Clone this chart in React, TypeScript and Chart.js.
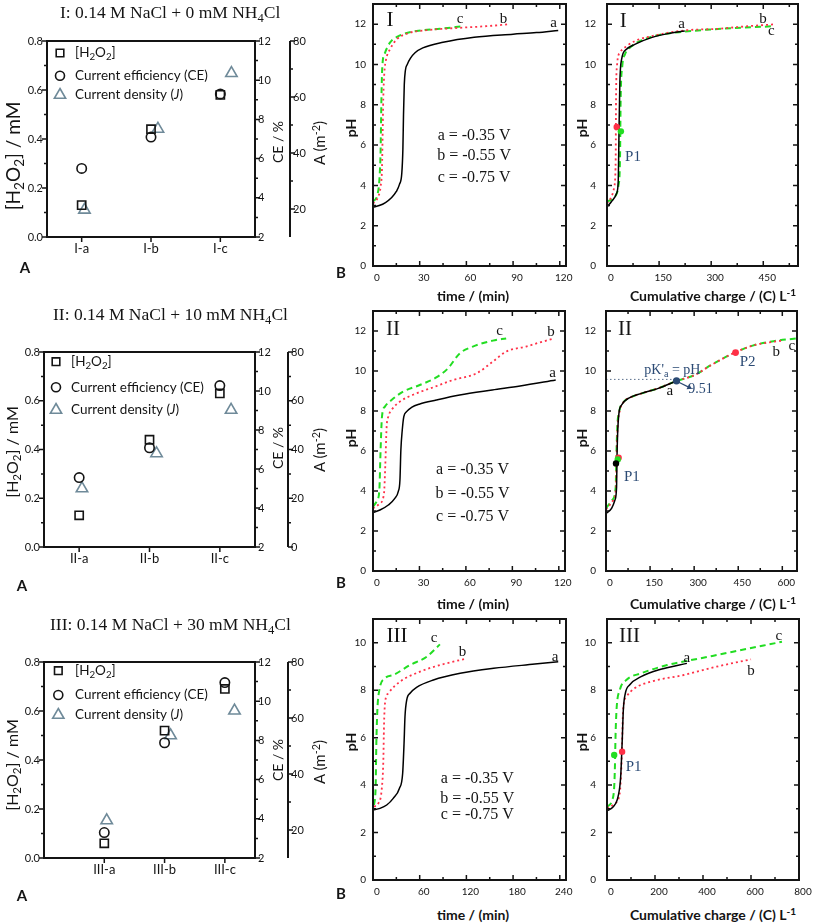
import React, { useEffect, useRef } from 'react';
import { Chart, registerables } from 'chart.js';

Chart.register(...registerables);

type P = [number, number];

// ---------------- Column A data ----------------
const catsI = ['I-a', 'I-b', 'I-c'];
const h2o2I = [0.13, 0.44, 0.58];
const ceI = [5.5, 7.1, 9.3];
const currI = [19.7, 48.6, 68.5];

const catsII = ['II-a', 'II-b', 'II-c'];
const h2o2II = [0.13, 0.44, 0.63];
const ceII = [5.56, 7.09, 10.28];
const currII = [24.0, 38.4, 56.2];

const catsIII = ['III-a', 'III-b', 'III-c'];
const h2o2III = [0.06, 0.52, 0.69];
const ceIII = [3.3, 7.88, 10.95];
const currIII = [23.4, 53.75, 62.6];

// ---------------- tick values ----------------
const h2o2Ticks = [0, 0.2, 0.4, 0.6, 0.8];
const h2o2Minor = [0.1, 0.3, 0.5, 0.7];
const ceTicks = [2, 4, 6, 8, 10, 12];
const ceMinor = [3, 5, 7, 9, 11];
const currTicksI = [20, 40, 60, 80];
const currMinorI = [30, 50, 70];
const currTicksII = [0, 20, 40, 60, 80];
const currMinorII = [10, 30, 50, 70];
const pHTicks13 = [0, 2, 4, 6, 8, 10, 12];
const pHMinor13 = [1, 3, 5, 7, 9, 11];
const pHTicks11 = [0, 2, 4, 6, 8, 10];
const pHMinor11 = [1, 3, 5, 7, 9];
const timeTicks120 = [0, 30, 60, 90, 120];
const timeMinor120 = [15, 45, 75, 105];
const timeTicks240 = [0, 60, 120, 180, 240];
const timeMinor240 = [30, 90, 150, 210];
const chargeTicksI = [0, 150, 300, 450];
const chargeMinorI = [75, 225, 375, 525];
const chargeTicksII = [0, 150, 300, 450, 600];
const chargeMinorII = [75, 225, 375, 525];
const chargeTicksIII = [0, 200, 400, 600, 800];
const chargeMinorIII = [100, 300, 500, 700];

// ---------------- Column B/C curves: [x, pH] ----------------
const timeIa: P[] = [[0, 2.92], [4, 3.0], [8, 3.15], [12, 3.4], [15, 3.7], [17, 4.05], [18.5, 4.6], [19.2, 5.8], [19.6, 7.5], [20.1, 9.0], [20.8, 9.7], [22, 10.0], [24, 10.3], [27, 10.58], [32, 10.82], [45, 11.1], [65, 11.35], [90, 11.5], [105, 11.58], [119, 11.69]];
const timeIb: P[] = [[0, 3.1], [3.4, 3.45], [4.9, 3.95], [5.8, 4.9], [6.2, 6.6], [6.6, 8.3], [7.3, 9.6], [8.4, 10.25], [10.9, 10.75], [15.2, 11.24], [21.7, 11.53], [34.5, 11.7], [56, 11.82], [73, 11.9], [87, 11.99]];
const timeIc: P[] = [[0, 3.2], [2.8, 3.53], [4.1, 4.28], [4.9, 5.77], [5.4, 8.26], [6.0, 9.92], [7.7, 10.58], [10.9, 11.08], [17.4, 11.44], [28, 11.66], [43, 11.77], [58, 11.9]];

const chargeIa: P[] = [[0, 2.92], [13, 3.2], [28, 3.62], [32.5, 4.28], [34.5, 6.6], [37, 9.1], [42, 10.25], [56, 10.75], [80, 11.0], [128, 11.33], [176, 11.53], [224, 11.66]];
const chargeIb: P[] = [[0, 3.1], [13, 3.45], [21, 3.95], [25, 5.27], [26, 8.26], [28.7, 9.92], [37, 10.58], [56, 10.9], [80, 11.16], [138, 11.44], [224, 11.69], [320, 11.77], [406, 11.9], [483, 11.99]];
const chargeIc: P[] = [[0, 3.2], [23, 3.45], [32.6, 3.95], [37.4, 5.27], [39.3, 8.26], [44, 9.92], [51.7, 10.5], [71, 10.9], [100, 11.2], [157, 11.49], [224, 11.63], [300, 11.74], [387, 11.82], [483, 11.9]];
const p1RedI: P = [28, 6.9];
const p1GreenI: P = [40, 6.68];

const timeIIa: P[] = [[0, 2.93], [4.5, 3.05], [9.9, 3.3], [14.1, 3.63], [16.3, 3.97], [17.4, 4.55], [18, 6.05], [18.9, 7.05], [19.9, 7.72], [21.7, 7.97], [24.9, 8.18], [30.2, 8.35], [40.9, 8.55], [56, 8.8], [77, 9.05], [95, 9.25], [118, 9.55]];
const timeIIb: P[] = [[0, 3.13], [4.5, 3.38], [7.1, 3.88], [7.9, 5.2], [8.8, 7.2], [9.9, 7.72], [12, 8.05], [17.4, 8.47], [28, 8.88], [38.8, 9.18], [51.7, 9.55], [66.7, 9.88], [77.4, 10.47], [86, 10.97], [98.8, 11.22], [107.4, 11.42], [117, 11.63]];
const timeIIc: P[] = [[0, 3.22], [2.8, 3.55], [4.1, 4.05], [4.9, 6.05], [5.8, 7.72], [7.7, 8.22], [12, 8.55], [19.5, 8.97], [30.2, 9.3], [40.9, 9.68], [48.4, 10.13], [56, 10.88], [64.5, 11.22], [77.4, 11.52], [86, 11.63]];

const chargeIIa: P[] = [[0, 2.88], [19, 3.13], [30.5, 3.55], [36, 4.2], [37.3, 5.55], [39.6, 6.88], [44, 7.88], [53, 8.3], [76, 8.63], [121, 8.88], [178, 9.13], [240, 9.5]];
const chargeIIb: P[] = [[0, 3.08], [25, 3.55], [34, 4.2], [36, 5.72], [39.6, 7.2], [47.5, 8.05], [60, 8.45], [90, 8.72], [130, 8.92], [180, 9.15], [240, 9.5], [302, 9.8], [358, 10.3], [438, 10.92], [506, 11.3], [574, 11.47], [600, 11.52]];
const chargeIIc: P[] = [[0, 3.13], [21.5, 3.55], [33, 4.2], [35, 5.55], [38.5, 7.2], [46, 8.05], [60, 8.45], [90, 8.72], [130, 8.92], [180, 9.15], [240, 9.5], [302, 9.8], [358, 10.3], [438, 10.92], [506, 11.3], [574, 11.5], [648, 11.63]];
const pkLineII: P[] = [[0, 9.58], [240, 9.58]];
const pkArrowII: P[] = [[246, 9.45], [283, 9.18]];
const pkPointII: P = [240, 9.51];
const p1BlackII: P = [34, 5.38];
const p1GreenII: P = [40, 5.58];
const p1RedII: P = [43, 5.66];
const p2RedII: P = [441, 10.92];

const timeIIIa: P[] = [[0, 2.95], [9, 3.02], [17.6, 3.16], [26, 3.44], [33.9, 3.86], [38.1, 4.49], [39.9, 5.76], [41.1, 6.88], [43.3, 7.58], [47.6, 7.87], [56, 8.12], [77.6, 8.43], [112, 8.71], [155, 8.92], [208, 9.1], [238, 9.2]];
const timeIIIb: P[] = [[1.3, 3.09], [6.9, 3.23], [11.1, 3.79], [13.3, 5.06], [14.1, 6.46], [15.4, 7.44], [19.7, 7.87], [34.7, 8.36], [60.4, 8.78], [86, 9.06], [117, 9.31]];
const timeIIIc: P[] = [[1.3, 3.16], [3.4, 3.93], [4.3, 5.76], [5.6, 7.16], [8.1, 8.0], [15.4, 8.5], [26, 8.64], [47.6, 9.06], [69, 9.41], [86, 9.93]];

const chargeIIIa: P[] = [[0, 2.92], [26, 3.09], [46, 3.51], [57, 4.35], [63, 5.76], [68, 7.16], [76.5, 7.87], [94, 8.22], [142, 8.57], [224, 8.88], [333, 9.13]];
const chargeIIIb: P[] = [[0, 3.02], [33, 3.23], [53, 3.65], [60, 4.78], [63, 5.76], [67, 7.16], [80.6, 7.72], [115, 8.08], [183, 8.36], [320, 8.64], [456, 8.99], [600, 9.3]];
const chargeIIIc: P[] = [[0, 3.09], [22, 3.37], [30, 3.93], [33, 4.78], [35.5, 6.04], [39.6, 7.16], [53, 8.0], [80.6, 8.43], [142, 8.71], [251, 9.06], [388, 9.34], [525, 9.62], [729, 10.04]];
const p1GreenIII: P = [30, 5.27];
const p1RedIII: P = [63, 5.41];

// ---------------- styles ----------------
const SERIF = '"Liberation Serif", "Times New Roman", serif';
const SANS = 'Lato, "Open Sans", sans-serif';
const BLUE = '#2b4a74';
const RED = '#ff3047';
const GREEN = '#22dd22';
const GRAY = '#6f8a99';
const INK = '#141414';

type Seg = { t: string; sub?: boolean; sup?: boolean; it?: boolean };
type Note = { x: number; y: number; text: string | Seg[]; size: number; sans?: boolean; color?: string; align?: 'left' | 'center' | 'right' };
type TickSet = { id: string; major: number[]; minor: number[]; sides: string[]; out?: boolean };
type LegendItem = { marker: 'rect' | 'circle' | 'triangle'; color: string; text: Seg[] };
type FigSpec = { ticks: TickSet[]; notes?: Note[]; legend?: { dx: number; dys: number[]; textDx: number; size: number; items: LegendItem[] } };

function segFont(size: number, sans: boolean, s: Seg) {
  const z = s.sub || s.sup ? size * 0.72 : size;
  return `${s.it ? 'italic ' : ''}${z}px ${sans ? SANS : SERIF}`;
}

function drawRich(ctx: CanvasRenderingContext2D, x: number, y: number, segs: Seg[], size: number, sans: boolean, color: string, align: string) {
  ctx.save();
  ctx.fillStyle = color;
  ctx.textBaseline = 'middle';
  ctx.textAlign = 'left';
  const widths = segs.map((s) => { ctx.font = segFont(size, sans, s); return ctx.measureText(s.t).width; });
  const total = widths.reduce((a, b) => a + b, 0);
  let cx = align === 'center' ? x - total / 2 : align === 'right' ? x - total : x;
  segs.forEach((s, i) => {
    ctx.font = segFont(size, sans, s);
    const dy = s.sub ? size * 0.3 : s.sup ? -size * 0.35 : 0;
    ctx.fillText(s.t, cx, y + dy);
    cx += widths[i];
  });
  ctx.restore();
}

function figPlugin(spec: FigSpec) {
  return {
    id: 'fig',
    afterDatasetsDraw(chart: any) {
      const ctx: CanvasRenderingContext2D = chart.ctx;
      const a = chart.chartArea;
      ctx.save();
      ctx.strokeStyle = INK;
      ctx.lineWidth = 2;
      ctx.strokeRect(a.left, a.top, a.right - a.left, a.bottom - a.top);
      for (const t of spec.ticks) {
        const s = chart.scales[t.id];
        const items: [number, number][] = [...t.major.map((v) => [v, 5] as [number, number]), ...t.minor.map((v) => [v, 3] as [number, number])];
        const sg = t.out ? 1 : -1;
        for (const side of t.sides) {
          if (side === 'axis') {
            ctx.lineWidth = 2;
            ctx.beginPath();
            ctx.moveTo(s.left, s.top);
            ctx.lineTo(s.left, s.bottom);
            ctx.stroke();
          }
          ctx.lineWidth = 1.5;
          ctx.beginPath();
          for (const [v, len] of items) {
            const p = s.getPixelForValue(v);
            if (side === 'b') { ctx.moveTo(p, a.bottom); ctx.lineTo(p, a.bottom + sg * len); }
            else if (side === 't') { ctx.moveTo(p, a.top); ctx.lineTo(p, a.top - sg * len); }
            else if (side === 'l') { ctx.moveTo(a.left, p); ctx.lineTo(a.left - sg * len, p); }
            else if (side === 'r') { ctx.moveTo(a.right, p); ctx.lineTo(a.right + sg * len, p); }
            else { ctx.moveTo(s.left, p); ctx.lineTo(s.left + len, p); }
          }
          ctx.stroke();
        }
      }
      for (const n of spec.notes || []) {
        const px = chart.scales.x.getPixelForValue(n.x);
        const py = chart.scales.y.getPixelForValue(n.y);
        const segs = typeof n.text === 'string' ? [{ t: n.text }] : n.text;
        drawRich(ctx, px, py, segs, n.size, !!n.sans, n.color || INK, n.align || 'center');
      }
      if (spec.legend) {
        const L = spec.legend;
        L.items.forEach((it, i) => {
          const x = a.left + L.dx;
          const y = a.top + L.dys[i];
          ctx.strokeStyle = it.color;
          ctx.lineWidth = 1.6;
          ctx.beginPath();
          if (it.marker === 'rect') ctx.rect(x - 3.8, y - 3.8, 7.6, 7.6);
          else if (it.marker === 'circle') ctx.arc(x, y, 4.5, 0, Math.PI * 2);
          else { ctx.moveTo(x, y - 6.5); ctx.lineTo(x + 5.63, y + 3.25); ctx.lineTo(x - 5.63, y + 3.25); ctx.closePath(); }
          ctx.stroke();
          drawRich(ctx, a.left + L.textDx, y, it.text, L.size, true, INK, 'left');
        });
      }
      ctx.restore();
    },
  };
}

const fixW = (w: number) => (s: any) => { s.width = w; s.paddingTop = 0; s.paddingBottom = 0; s.paddingLeft = 0; s.paddingRight = 0; };
const fixH = (h: number) => (s: any) => { s.height = h; s.paddingTop = 0; s.paddingBottom = 0; s.paddingLeft = 0; s.paddingRight = 0; };
const setTicks = (vals: number[]) => (s: any) => { s.ticks = vals.map((v) => ({ value: v })); };
const noGrid = { display: false, drawTicks: false, tickLength: 0 };

const legendItems: LegendItem[] = [
  { marker: 'rect', color: INK, text: [{ t: '[H' }, { t: '2', sub: true }, { t: 'O' }, { t: '2', sub: true }, { t: ']' }] },
  { marker: 'circle', color: INK, text: [{ t: 'Current efficiency (CE)' }] },
  { marker: 'triangle', color: GRAY, text: [{ t: 'Current density (' }, { t: 'J', it: true }, { t: ')' }] },
];

function aConfig(o: any) {
  const triShift = [0.04, 0.1, 0.16];
  const mk = (vals: number[], axis: string, style: string, r: number, color: string, shift: number[] | null) => ({
    data: vals.map((v, i) => ({ x: i + 1 + (shift ? shift[i] : 0), y: v })),
    yAxisID: axis, showLine: false, pointStyle: style, pointRadius: r, pointBorderWidth: 1.6,
    pointBorderColor: color, pointBackgroundColor: 'rgba(0,0,0,0)', borderColor: color, backgroundColor: 'rgba(0,0,0,0)',
  });
  const tickFont = { family: SANS, size: 11 };
  const common = { type: 'linear', bounds: 'data', grid: noGrid, border: { display: false } };
  return {
    type: 'scatter',
    data: {
      datasets: [
        mk(o.h2o2, 'y', 'rect', 5.8, INK, null),
        mk(o.ce, 'yCE', 'circle', 4.7, INK, null),
        mk(o.curr, 'yA', 'triangle', 6.6, GRAY, triShift),
      ],
    },
    options: {
      responsive: false, animation: false, events: [],
      layout: { padding: { top: o.padT, left: 0, right: 0, bottom: 0 } },
      plugins: { legend: { display: false }, tooltip: { enabled: false } },
      scales: {
        x: { ...common, position: 'bottom', min: o.xMin, max: 3.5, afterBuildTicks: setTicks([1, 2, 3]), afterFit: fixH(o.xH),
          ticks: { autoSkip: false, maxRotation: 0, padding: 4, font: { family: SANS, size: 13 }, color: INK, callback: (_v: any, i: number) => o.cats[i] } },
        y: { ...common, axis: 'y', position: 'left', min: 0, max: 0.8, afterBuildTicks: setTicks(h2o2Ticks), afterFit: fixW(o.yW),
          ticks: { padding: 4, font: tickFont, color: INK, callback: (v: any) => Number(v).toFixed(1) } },
        yCE: { ...common, axis: 'y', position: 'right', min: 2, max: 12, afterBuildTicks: setTicks(ceTicks), afterFit: fixW(o.ceW),
          ticks: { padding: 3, font: tickFont, color: INK } },
        yA: { ...common, axis: 'y', position: 'right', min: o.aMin, max: 80, afterBuildTicks: setTicks(o.aTicks), afterFit: fixW(o.aW),
          ticks: { padding: 3, font: tickFont, color: INK } },
      },
    },
    plugins: [figPlugin({
      ticks: [
        { id: 'y', major: h2o2Ticks, minor: h2o2Minor, sides: ['l'], out: true },
        { id: 'yCE', major: ceTicks, minor: ceMinor, sides: ['r'], out: true },
        { id: 'x', major: [1, 2, 3], minor: [], sides: ['b'], out: true },
        { id: 'yA', major: o.aTicks, minor: o.aMinor, sides: ['axis'], out: true },
      ],
      legend: { ...o.legend, size: 13.5, items: legendItems },
    })],
  };
}

function cConfig(o: any) {
  const line = (pts: P[], color: string, dash: number[], w: number) => ({
    data: pts.map(([x, y]) => ({ x, y })), showLine: true, borderColor: color, borderWidth: w, borderDash: dash,
    pointRadius: 0, tension: 0.4, cubicInterpolationMode: 'monotone', fill: false,
  });
  const dotSets = (o.dots || []).map((d: any) => ({
    data: [{ x: d.p[0], y: d.p[1] }], showLine: false, pointRadius: d.r || 3.2,
    pointBackgroundColor: d.color, pointBorderColor: d.color, pointBorderWidth: 0,
  }));
  const common = { type: 'linear', bounds: 'data', grid: noGrid, border: { display: false } };
  const tickFont = { family: SANS, size: 10 };
  return {
    type: 'scatter',
    data: {
      datasets: [
        ...dotSets,
        ...(o.extras || []),
        line(o.a, '#000', [], 1.5),
        line(o.b, RED, [2, 3], 1.8),
        line(o.c, GREEN, [6, 4], 2),
      ],
    },
    options: {
      responsive: false, animation: false, events: [],
      layout: { padding: { top: o.padT, right: o.padR, left: 0, bottom: 0 } },
      plugins: { legend: { display: false }, tooltip: { enabled: false } },
      scales: {
        x: { ...common, position: 'bottom', min: 0, max: o.xMax, afterBuildTicks: setTicks(o.xTicks), afterFit: fixH(20),
          ticks: { autoSkip: false, maxRotation: 0, padding: 6, labelOffset: 4, font: tickFont, color: INK, callback: (v: any) => String(v) } },
        y: { ...common, position: 'left', min: 0, max: o.yMax, afterBuildTicks: setTicks(o.yTicks), afterFit: fixW(o.yW),
          ticks: { padding: o.yPad, font: tickFont, color: INK, callback: (v: any) => String(v) } },
      },
    },
    plugins: [figPlugin({
      ticks: [
        { id: 'x', major: o.xTicks, minor: o.xMinor, sides: ['b', 't'] },
        { id: 'y', major: o.yTicks, minor: o.yMinor, sides: ['l', 'r'] },
      ],
      notes: o.notes,
    })],
  };
}

const lbl = (x: number, y: number, t: string, size = 15): Note => ({ x, y, text: t, size });
const blue = (x: number, y: number, t: string | Seg[], size = 15): Note => ({ x, y, text: t, size, color: BLUE });

type PanelDef = { left: number; top: number; width: number; height: number; make: () => any };

const PANELS: PanelDef[] = [
  // Row I
  { left: 0, top: 0, width: 315, height: 265, make: () => aConfig({ cats: catsI, h2o2: h2o2I, ce: ceI, curr: currI, xMin: 0.5, aMin: 10, aTicks: currTicksI, aMinor: currMinorI, yW: 47, ceW: 35, aW: 25, padT: 41, xH: 28, legend: { dx: 13, dys: [12, 34.7, 54], textDx: 28 } }) },
  { left: 345, top: 0, width: 228, height: 286, make: () => cConfig({ xMax: 124, yMax: 13, xTicks: timeTicks120, xMinor: timeMinor120, yTicks: pHTicks13, yMinor: pHMinor13, a: timeIa, b: timeIb, c: timeIc, yW: 28, padT: 4, padR: 7, yPad: 7,
    notes: [lbl(10.9, 12.16, 'I', 21), lbl(56, 12.24, 'c'), lbl(83.8, 12.24, 'b'), lbl(116, 12.07, 'a'), lbl(65, 6.47, 'a = -0.35 V', 16), lbl(65, 5.47, 'b = -0.55 V', 16), lbl(65, 4.38, 'c = -0.75 V', 16)] }) },
  { left: 580, top: 0, width: 235, height: 286, make: () => cConfig({ xMax: 550, yMax: 13, xTicks: chargeTicksI, xMinor: chargeMinorI, yTicks: pHTicks13, yMinor: pHMinor13, a: chargeIa, b: chargeIb, c: chargeIc, yW: 27, padT: 4, padR: 17, yPad: 11,
    dots: [{ p: p1GreenI, color: GREEN }, { p: p1RedI, color: RED }],
    notes: [lbl(47, 12.14, 'I', 21), lbl(215, 12.0, 'a'), lbl(449, 12.24, 'b'), lbl(473, 11.66, 'c'), blue(75, 5.42, 'P1')] }) },
  // Row II
  { left: 0, top: 300, width: 315, height: 275, make: () => aConfig({ cats: catsII, h2o2: h2o2II, ce: ceII, curr: currII, xMin: 0.5, aMin: 0, aTicks: currTicksII, aMinor: currMinorII, yW: 44, ceW: 33, aW: 27, padT: 52, xH: 28, legend: { dx: 12, dys: [9.7, 35.3, 58], textDx: 27 } }) },
  { left: 345, top: 300, width: 228, height: 291, make: () => cConfig({ xMax: 124, yMax: 13, xTicks: timeTicks120, xMinor: timeMinor120, yTicks: pHTicks13, yMinor: pHMinor13, a: timeIIa, b: timeIIb, c: timeIIc, yW: 28, padT: 11, padR: 8, yPad: 7,
    notes: [lbl(12.9, 12.1, 'II', 21), lbl(81.7, 12.02, 'c'), lbl(115, 11.97, 'b'), lbl(116, 9.88, 'a'), lbl(64.3, 5.05, 'a = -0.35 V', 16), lbl(64.3, 3.88, 'b = -0.55 V', 16), lbl(64.3, 2.72, 'c = -0.75 V', 16)] }) },
  { left: 580, top: 300, width: 235, height: 291, make: () => cConfig({ xMax: 650, yMax: 13, xTicks: chargeTicksII, xMinor: chargeMinorII, yTicks: pHTicks13, yMinor: pHMinor13, a: chargeIIa, b: chargeIIb, c: chargeIIc, yW: 26, padT: 11, padR: 18, yPad: 10,
    dots: [{ p: pkPointII, color: BLUE, r: 3.6 }, { p: p1BlackII, color: '#000' }, { p: p1GreenII, color: GREEN }, { p: p1RedII, color: RED }, { p: p2RedII, color: RED, r: 3.4 }],
    extras: [
      { data: pkArrowII.map(([x, y]) => ({ x, y })), showLine: true, borderColor: BLUE, borderWidth: 1.2, pointRadius: [0, 3.2], pointStyle: 'triangle', pointRotation: [0, 117], pointBackgroundColor: BLUE, pointBorderColor: BLUE, pointBorderWidth: 0 },
      { data: pkLineII.map(([x, y]) => ({ x, y })), showLine: true, borderColor: '#5a6f8c', borderWidth: 1, borderDash: [1.5, 2.5], pointRadius: 0 },
    ],
    notes: [lbl(64.5, 12.1, 'II', 21), blue(226, 10.05, [{ t: "pK'" }, { t: 'a', sub: true }, { t: ' = pH' }], 14), blue(322, 9.1, '9.51', 14), lbl(217, 9.0, 'a'), lbl(579, 10.97, 'b'), lbl(632, 11.25, 'c'), blue(88, 4.7, 'P1'), blue(482, 10.47, 'P2')] }) },
  // Row III
  { left: 0, top: 610, width: 315, height: 276, make: () => aConfig({ cats: catsIII, h2o2: h2o2III, ce: ceIII, curr: currIII, xMin: 0, aMin: 10, aTicks: currTicksI, aMinor: currMinorI, yW: 44, ceW: 33, aW: 27, padT: 52, xH: 28, legend: { dx: 14.3, dys: [8.7, 33, 53], textDx: 31 } }) },
  { left: 345, top: 610, width: 228, height: 290, make: () => cConfig({ xMax: 248, yMax: 11, xTicks: timeTicks240, xMinor: timeMinor240, yTicks: pHTicks11, yMinor: pHMinor11, a: timeIIIa, b: timeIIIb, c: timeIIIc, yW: 28, padT: 9, padR: 7, yPad: 7,
    notes: [lbl(30.9, 10.26, 'III', 21), lbl(78.4, 10.18, 'c'), lbl(115, 9.62, 'b'), lbl(234, 9.41, 'a'), lbl(134, 4.28, 'a = -0.35 V', 16), lbl(134, 3.44, 'b = -0.55 V', 16), lbl(134, 2.74, 'c = -0.75 V', 16)] }) },
  { left: 580, top: 610, width: 235, height: 290, make: () => cConfig({ xMax: 800, yMax: 11, xTicks: chargeTicksIII, xMinor: chargeMinorIII, yTicks: pHTicks11, yMinor: pHMinor11, a: chargeIIIa, b: chargeIIIb, c: chargeIIIc, yW: 27, padT: 9, padR: 16, yPad: 11,
    dots: [{ p: p1GreenIII, color: GREEN }, { p: p1RedIII, color: RED }],
    notes: [lbl(94, 10.26, 'III', 21), lbl(333, 9.34, 'a'), lbl(600, 8.82, 'b'), lbl(716, 10.3, 'c'), blue(111, 4.78, 'P1')] }) },
];

function Panel({ left, top, width, height, make }: PanelDef) {
  const ref = useRef<HTMLCanvasElement | null>(null);
  useEffect(() => {
    const chart = new Chart(ref.current as HTMLCanvasElement, make());
    return () => chart.destroy();
  }, [make]);
  return <canvas ref={ref} width={width} height={height} style={{ position: 'absolute', left, top, width, height }} />;
}

function T({ x, y, children, style, rot, align }: { x: number; y: number; children: any; style?: any; rot?: boolean; align?: string }) {
  const tx = align === 'left' ? '0' : '-50%';
  return (
    <div style={{ position: 'absolute', left: x, top: y, transform: `translate(${tx},-50%)${rot ? ' rotate(-90deg)' : ''}`, whiteSpace: 'nowrap', lineHeight: 1, ...style }}>
      {children}
    </div>
  );
}

const Sub = ({ children }: any) => <span style={{ fontSize: '0.72em', position: 'relative', top: '0.3em' }}>{children}</span>;
const Sup = ({ children }: any) => <span style={{ fontSize: '0.72em', position: 'relative', top: '-0.45em' }}>{children}</span>;

const titleStyle = { fontFamily: SERIF, fontSize: 17.5, color: INK };
const boldAxis = { fontFamily: SANS, fontSize: 14, fontWeight: 700, color: INK };
const sideTitle = { fontFamily: SANS, fontSize: 14, color: INK };

export default function App() {
  const rowsY = [
    { title: 13, h2o2: 156, h2o2Size: 19, ce: 142, a: 143, A: 267, B: 272, pH: 128, xt: 296, num: 'I', nh: '0' },
    { title: 315, h2o2: 452, h2o2Size: 16, ce: 448, a: 450, A: 585, B: 582, pH: 438, xt: 604, num: 'II', nh: '10' },
    { title: 625, h2o2: 765, h2o2Size: 16, ce: 760, a: 762, A: 895, B: 893, pH: 742, xt: 915, num: 'III', nh: '30' },
  ];
  const titleX = [60, 53, 50];
  return (
    <div style={{ position: 'absolute', left: 0, top: 0, width: 815, height: 923, background: '#fff', overflow: 'hidden' }}>
      {PANELS.map((p, i) => <Panel key={i} {...p} />)}
      {rowsY.map((r, i) => (
        <React.Fragment key={i}>
          <T x={titleX[i]} y={r.title} align="left" style={titleStyle}>{r.num}: 0.14 M NaCl + {r.nh} mM NH<Sub>4</Sub>Cl</T>
          <T x={12} y={r.h2o2} rot style={{ ...sideTitle, fontSize: r.h2o2Size }}>[H<Sub>2</Sub>O<Sub>2</Sub>] / mM</T>
          <T x={278} y={r.ce} rot style={sideTitle}>CE / %</T>
          <T x={319} y={r.a} rot style={{ ...sideTitle, fontSize: 15 }}>A (m<Sup>-2</Sup>)</T>
          <T x={i === 0 ? 25 : 22} y={r.A} style={{ ...boldAxis, fontSize: 15 }}>A</T>
          <T x={341} y={r.B} style={{ ...boldAxis, fontSize: 15 }}>B</T>
          <T x={351} y={r.pH} rot style={boldAxis}>pH</T>
          <T x={582} y={r.pH} rot style={boldAxis}>pH</T>
          <T x={473} y={r.xt} style={boldAxis}>time / (min)</T>
          <T x={713} y={r.xt} style={boldAxis}>Cumulative charge / (C) L<Sup>-1</Sup></T>
        </React.Fragment>
      ))}
    </div>
  );
}
